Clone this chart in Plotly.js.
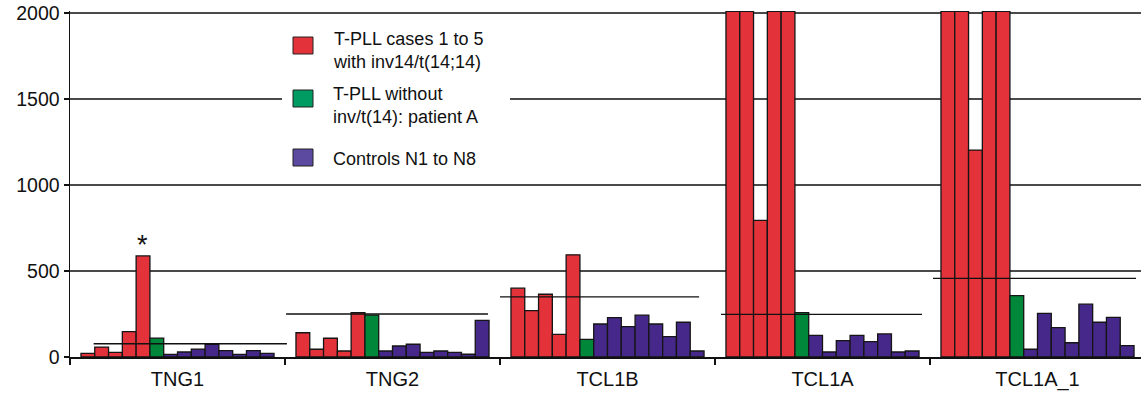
<!DOCTYPE html>
<html>
<head>
<meta charset="utf-8">
<script src="https://cdn.plot.ly/plotly-3.0.1.min.js"></script>
<style>html,body{margin:0;padding:0;background:#fff;}#chart{width:1141px;height:397px;}</style>
</head>
<body>
<div id="chart"></div>
<script>
// ---- data ----
const genes = ['TNG1', 'TNG2', 'TCL1B', 'TCL1A', 'TCL1A_1'];
// T-PLL cases 1 to 5 with inv14/t(14;14) (values above 2000 are off-scale)
const case1 = [21, 141, 400, 2010, 2010];
const case2 = [58, 45, 270, 2010, 2010];
const case3 = [27, 109, 365, 795, 1203];
const case4 = [147, 35, 132, 2010, 2010];
const case5 = [588, 258, 594, 2010, 2010];
// T-PLL without inv/t(14): patient A
const patientA = [110, 244, 103, 258, 357];
// Controls N1 to N8
const N1 = [15, 35, 192, 126, 45];
const N2 = [29, 64, 229, 29, 254];
const N3 = [46, 74, 177, 95, 171];
const N4 = [74, 27, 243, 126, 83];
const N5 = [37, 35, 192, 89, 307];
const N6 = [15, 27, 118, 134, 202];
const N7 = [37, 16, 202, 29, 231];
const N8 = [21, 213, 35, 35, 66];
// threshold level per gene
const thresholds = [77, 250, 350, 248, 457];
const yTicks = [0, 500, 1000, 1500, 2000];

// ---- styling ----
const RED = '#e3323a', GREEN = '#008739', PURPLE = '#46288a';
const LEG_RED = '#e3323a', LEG_GREEN = '#009a63', LEG_PURPLE = '#5b4aa0';
const FONT = 'Liberation Sans, Arial, Helvetica, sans-serif';
// extents of each threshold line relative to its category centre
const lineStart = [-0.39, -0.495, -0.5, -0.472, -0.486];
const lineEnd = [0.509, 0.444, 0.426, 0.463, 0.458];

const series = [
  {y: case1, c: RED}, {y: case2, c: RED}, {y: case3, c: RED}, {y: case4, c: RED}, {y: case5, c: RED},
  {y: patientA, c: GREEN},
  {y: N1, c: PURPLE}, {y: N2, c: PURPLE}, {y: N3, c: PURPLE}, {y: N4, c: PURPLE},
  {y: N5, c: PURPLE}, {y: N6, c: PURPLE}, {y: N7, c: PURPLE}, {y: N8, c: PURPLE}
];

const traces = series.map(s => ({
  type: 'bar', x: genes, y: s.y,
  marker: {color: s.c, line: {color: '#151515', width: 1.3}},
  hoverinfo: 'y', showlegend: false
}));

// plot box in pixels
const L = 70, R = 1141, T = 11, B = 357;
const px = v => (v - L) / (R - L);
const py = v => (B - v) / (B - T);

const shapes = thresholds.map((t, i) => ({
  type: 'line', xref: 'x', yref: 'y',
  x0: i + lineStart[i], x1: i + lineEnd[i], y0: t, y1: t,
  line: {color: '#111', width: 1.3}, layer: 'above'
}));
// legend panel
shapes.push({type: 'rect', xref: 'paper', yref: 'paper', x0: px(282), x1: px(510), y0: py(176), y1: py(22),
  fillcolor: '#fff', line: {width: 0}, layer: 'above'});
const legItems = [
  {c: LEG_RED, top: 37, text: 'T-PLL cases 1 to 5<br>with inv14/t(14;14)', ty: 50},
  {c: LEG_GREEN, top: 90, text: 'T-PLL without<br>inv/t(14): patient A', ty: 105},
  {c: LEG_PURPLE, top: 149, text: 'Controls N1 to N8', ty: 159}
];
const annotations = [];
legItems.forEach(it => {
  shapes.push({type: 'rect', xref: 'paper', yref: 'paper', x0: px(293), x1: px(313), y0: py(it.top + 17), y1: py(it.top),
    fillcolor: it.c, line: {color: '#222', width: 1}, layer: 'above'});
  annotations.push({xref: 'paper', yref: 'paper', x: px(331), y: py(it.ty), xanchor: 'left', yanchor: 'middle',
    align: 'left', showarrow: false, text: it.text, font: {family: FONT, size: 18, color: '#111'}});
});
// asterisk above case 5 of TNG1
annotations.push({xref: 'x', yref: 'y', x: (4 - 6.5) * (0.9 / 14), y: case5[0], text: '*', showarrow: false,
  yanchor: 'bottom', yshift: -6, font: {family: FONT, size: 27, color: '#111'}});

const layout = {
  width: 1141, height: 397,
  margin: {l: L, r: 1141 - R, t: T, b: 397 - B, pad: 0},
  paper_bgcolor: '#fff', plot_bgcolor: '#fff',
  barmode: 'group', bargap: 0.102, bargroupgap: 0,
  showlegend: false,
  font: {family: FONT, color: '#111'},
  xaxis: {
    type: 'category', range: [-0.5, -0.5 + (R - L) / 215],
    showline: true, linecolor: '#111', linewidth: 1.5,
    ticks: 'outside', tickson: 'boundaries', ticklen: 6, tickcolor: '#111', tickwidth: 1.3,
    showgrid: false, zeroline: false, ticklabelstandoff: 3,
    tickfont: {family: FONT, size: 20, color: '#111'}
  },
  yaxis: {
    range: [0, 2012], tickvals: yTicks, ticktext: yTicks.map(String),
    showline: true, linecolor: '#111', linewidth: 1.5,
    ticks: 'outside', ticklen: 5, tickcolor: '#111', tickwidth: 1.3,
    showgrid: true, gridcolor: '#4a4a4a', gridwidth: 1.3, zeroline: false,
    tickfont: {family: FONT, size: 19.5, color: '#111'}
  },
  shapes: shapes,
  annotations: annotations
};

Plotly.newPlot('chart', traces, layout, {staticPlot: true, displayModeBar: false});
</script>
</body>
</html>
